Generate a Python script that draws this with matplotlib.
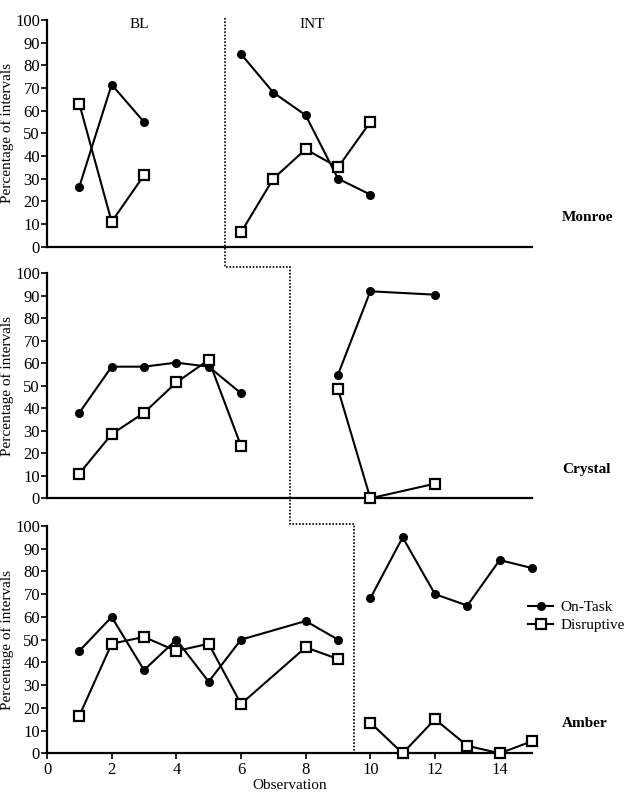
import matplotlib
matplotlib.use("Agg")
import matplotlib.pyplot as plt
from matplotlib.lines import Line2D

plt.rcParams['font.family'] = ['Liberation Serif', 'DejaVu Serif']

# Monroe
monroe_bl_x = [1, 2, 3]
monroe_bl_ontask = [26.5, 71.5, 55]
monroe_bl_disrupt = [63, 11, 31.5]
monroe_int_x = [6, 7, 8, 9, 10]
monroe_int_ontask = [85, 68, 58, 30, 23]
monroe_int_disrupt = [6.3, 30, 43, 35, 55]

# Crystal
crystal_bl_x = [1, 2, 3, 4, 5, 6]
crystal_bl_ontask = [38, 58.5, 58.5, 60.3, 58.5, 46.7]
crystal_bl_disrupt = [11, 28.5, 38, 51.5, 61.5, 23.3]
crystal_int_x = [9, 10, 12]
crystal_int_ontask = [55, 92, 90.5]
crystal_int_disrupt = [48.5, 0, 6.5]

# Amber
amber_bl_x = [1, 2, 3, 4, 5, 6, 8, 9]
amber_bl_ontask = [45, 60, 36.6, 50, 31.5, 50, 58.2, 50]
amber_bl_disrupt = [16.5, 48.2, 51.2, 45, 48.2, 21.7, 46.6, 41.5]
amber_int_x = [10, 11, 12, 13, 14, 15]
amber_int_ontask = [68.2, 95, 70, 65, 85, 81.5]
amber_int_disrupt = [13.5, 0, 15, 3.3, 0, 5.3]

names = ["Monroe", "Crystal", "Amber"]
phase_lines = [5.5, 7.5, 9.5]
yticks = list(range(0, 101, 10))
xticks = list(range(0, 15, 2))

panels = [
    (monroe_bl_x, monroe_bl_ontask, monroe_bl_disrupt,
     monroe_int_x, monroe_int_ontask, monroe_int_disrupt),
    (crystal_bl_x, crystal_bl_ontask, crystal_bl_disrupt,
     crystal_int_x, crystal_int_ontask, crystal_int_disrupt),
    (amber_bl_x, amber_bl_ontask, amber_bl_disrupt,
     amber_int_x, amber_int_ontask, amber_int_disrupt),
]

fig = plt.figure(figsize=(6.24, 7.95), dpi=100)

W, H = 624, 795
left_px, right_px = 47, 532
# (top, bottom) of each panel in pixels
rows_px = [(20, 246.7), (273.3, 498.3), (526, 753.3)]

on_style = dict(color='black', lw=1.5, marker='o', ms=5.5,
                markerfacecolor='black', clip_on=False, zorder=3)
dis_style = dict(color='black', lw=1.5, marker='s', ms=6.5,
                 markerfacecolor='white', markeredgewidth=1.6,
                 clip_on=False, zorder=3)

axes = []
for i, (top, bot) in enumerate(rows_px):
    ax = fig.add_axes([left_px / W, 1 - bot / H,
                       (right_px - left_px) / W, (bot - top) / H])
    axes.append(ax)
    bx, bon, bdis, ix, ion, idis = panels[i]
    h1, = ax.plot(bx, bon, **on_style)
    h2, = ax.plot(bx, bdis, **dis_style)
    ax.plot(ix, ion, **on_style)
    ax.plot(ix, idis, **dis_style)

    ax.set_xlim(0, 15)
    ax.set_ylim(0, 100)
    ax.set_yticks(yticks)
    ax.tick_params(axis='y', labelsize=12, length=4, width=1.2, pad=1)
    for s in ['top', 'right']:
        ax.spines[s].set_visible(False)
    for s in ['left', 'bottom']:
        ax.spines[s].set_linewidth(1.6)
    ax.set_ylabel("Percentage of intervals", fontsize=11, labelpad=1)
    ax.text(1.062, 0.13, names[i], transform=ax.transAxes,
            fontsize=11, fontweight='bold', va='center', ha='left')

    if i < 2:
        ax.set_xticks([])
    else:
        ax.set_xticks(xticks)
        ax.tick_params(axis='x', labelsize=12, length=4, width=1.2, pad=2)
        ax.set_xlabel("Observation", fontsize=11, labelpad=1)
        ax.legend([h1, h2], ["On-Task", "Disruptive"], frameon=False,
                  loc='upper left', bbox_to_anchor=(0.98, 0.7),
                  fontsize=11, handlelength=1.6, handletextpad=0.5,
                  borderaxespad=0, labelspacing=0.3)

axes[0].text(2.85, 98, "BL", fontsize=11, ha='center', va='center')
axes[0].text(8.2, 98, "INT", fontsize=11, ha='center', va='center')

# stepped phase-change line
inv = fig.transFigure.inverted()


def to_fig(ax, x, y):
    return inv.transform(ax.transData.transform((x, y)))


pts = [
    to_fig(axes[0], phase_lines[0], 101),
    to_fig(axes[0], phase_lines[0], -9),
    to_fig(axes[0], phase_lines[1], -9),
    to_fig(axes[1], phase_lines[1], -11.5),
    to_fig(axes[1], phase_lines[2], -11.5),
    to_fig(axes[2], phase_lines[2], 0),
]
fig.add_artist(Line2D([p[0] for p in pts], [p[1] for p in pts],
                      transform=fig.transFigure, color='black',
                      lw=1.2, ls=(0, (1, 1))))

fig.savefig("out.png", dpi=100)
